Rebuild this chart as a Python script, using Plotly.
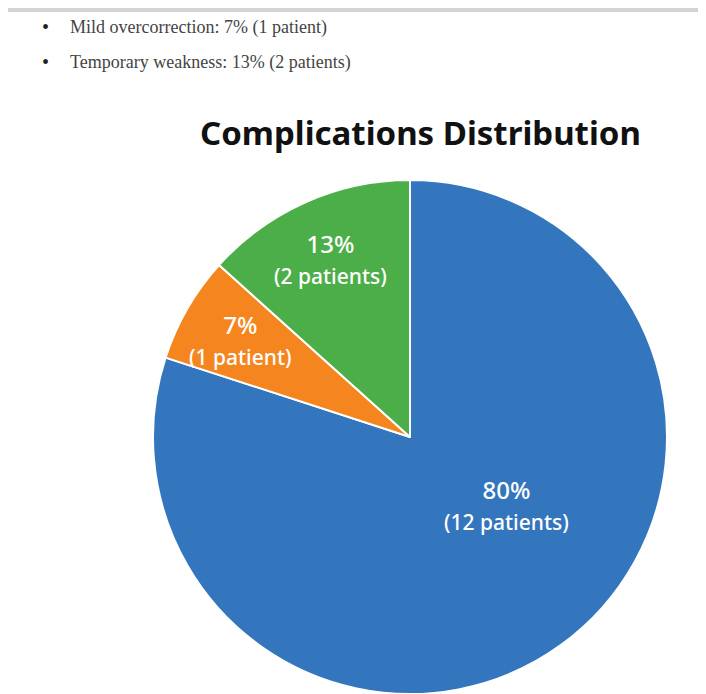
import math
import plotly.graph_objects as go

# Data
categories = ["No complications", "Mild overcorrection", "Temporary weakness"]
patients = [12, 1, 2]
colors = ["#3476be", "#f5861f", "#4cae48"]
bullet_lines = [
    "Mild overcorrection: 7% (1 patient)",
    "Temporary weakness: 13% (2 patients)",
]
title_text = "Complications Distribution"

# label placement style (radius fraction, angle offset from the slice mid-angle in degrees)
label_radius = [0.46, 0.76, 0.76]
label_angle_shift = [-19, 0, 0]

W, H = 706, 694
OFF = 8  # page body margin
cx, cy = 410 - OFF, 437 - OFF
r = (H - OFF) - cy

total = sum(patients)
pcts = [v / total for v in patients]


def label(v, p, small=21):
    unit = "patient" if v == 1 else "patients"
    return f"{p:.0%}<br><span style='font-size:{small}px'>({v} {unit})</span>"


fig = go.Figure()
fig.add_trace(go.Pie(
    labels=categories,
    values=patients,
    sort=False,
    direction="clockwise",
    rotation=0,
    marker=dict(colors=colors, line=dict(color="white", width=2)),
    textinfo="none",
    domain=dict(x=[(cx - r) / W, (cx + r) / W], y=[(H - cy - r) / H, (H - cy + r) / H]),
    showlegend=False,
    hoverinfo="label+value+percent",
))

annotations = [
    dict(text=f"<b>{title_text}</b>", x=(420 - OFF) / W, y=1 - (133 - OFF) / H, xref="paper", yref="paper",
         showarrow=False, xanchor="center", yanchor="middle",
         font=dict(family="Noto Sans", size=33, color="#111111")),
]

# slice labels placed from each slice's angle
cum = 0.0
for v, p, fr, sh in zip(patients, pcts, label_radius, label_angle_shift):
    mid = (cum + p / 2) * 2 * math.pi + math.radians(sh)
    cum += p
    d = fr * r
    xp = cx + d * math.sin(mid)
    yp = cy - d * math.cos(mid)
    annotations.append(dict(text=label(v, p), x=xp / W, y=1 - yp / H, xref="paper", yref="paper",
                            showarrow=False, xanchor="center", yanchor="middle",
                            font=dict(family="Noto Sans", size=24, color="white", weight=500)))

for i, line in enumerate(bullet_lines):
    yy = 1 - (27 - OFF + 35 * i) / H
    annotations.append(dict(text="•", x=(45 - OFF) / W, y=yy, xref="paper", yref="paper", showarrow=False,
                            xanchor="center", yanchor="middle",
                            font=dict(family="Liberation Serif", size=20, color="#222222")))
    annotations.append(dict(text=line, x=(68 - OFF) / W, y=yy, xref="paper", yref="paper", showarrow=False,
                            xanchor="left", yanchor="middle",
                            font=dict(family="Liberation Serif", size=18, color="#444444")))

fig.update_layout(
    width=W, height=H,
    margin=dict(l=0, r=0, t=0, b=0),
    paper_bgcolor="white",
    plot_bgcolor="white",
    annotations=annotations,
    shapes=[dict(type="rect", xref="paper", yref="paper", x0=0, x1=1, y0=1 - 4 / H, y1=1,
                 fillcolor="#d4d4d6", line=dict(width=0), layer="above")],
)

fig.write_html("out.html")
